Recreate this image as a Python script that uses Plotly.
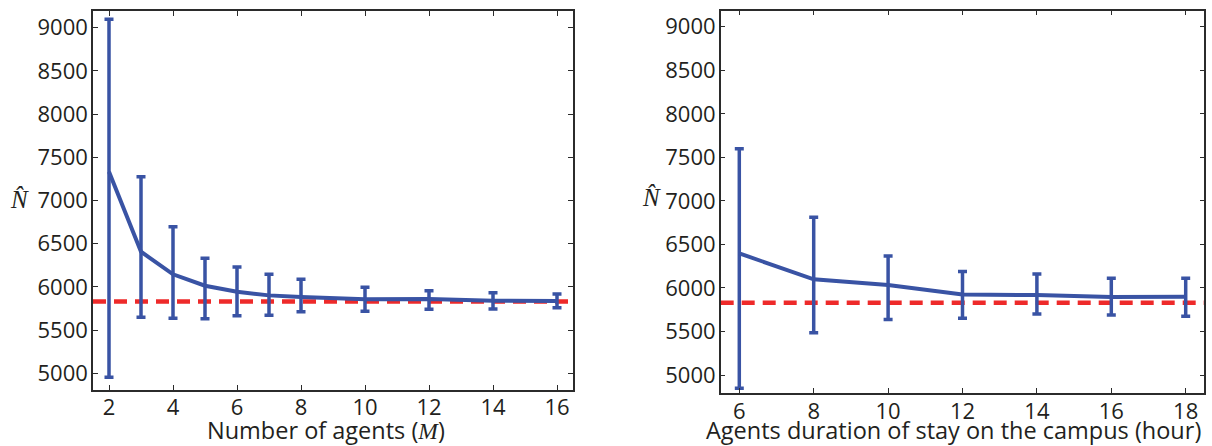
import plotly.graph_objects as go

# Left panel: estimate vs number of agents M
agents = [2, 3, 4, 5, 6, 7, 8, 10, 12, 14, 16]
agents_mean = [7333, 6407, 6146, 6014, 5944, 5902, 5883, 5856, 5860, 5840, 5837]
agents_upper = [9097, 7275, 6697, 6331, 6230, 6146, 6088, 5995, 5956, 5933, 5918]
agents_lower = [4954, 5648, 5636, 5632, 5667, 5671, 5713, 5718, 5741, 5745, 5759]

# Right panel: estimate vs duration of stay (hours)
hours = [6, 8, 10, 12, 14, 16, 18]
hours_mean = [6397, 6099, 6033, 5924, 5918, 5895, 5899]
hours_upper = [7598, 6811, 6366, 6190, 6160, 6110, 6110]
hours_lower = [4847, 5486, 5639, 5651, 5700, 5689, 5674]

true_n = 5830

left_xticks = [2, 4, 6, 8, 10, 12, 14, 16]
right_xticks = [6, 8, 10, 12, 14, 16, 18]
yticks = [5000, 5500, 6000, 6500, 7000, 7500, 8000, 8500, 9000]

BLUE = "#3953A4"
RED = "#EE2A2A"
AXIS = "#2b2b2b"
TEXT = "#231f20"
FONT = "Open Sans"
W, H = 1212, 446

fig = go.Figure()


def add_series(x, mean, upper, lower, xa, ya):
    fig.add_trace(go.Scatter(
        x=x, y=mean, mode="lines",
        line=dict(color=BLUE, width=4),
        error_y=dict(
            type="data", symmetric=False,
            array=[u - m for u, m in zip(upper, mean)],
            arrayminus=[m - l for m, l in zip(mean, lower)],
            color=BLUE, thickness=3.5, width=4.5,
        ),
        xaxis=xa, yaxis=ya, showlegend=False, hoverinfo="skip",
    ))


add_series(agents, agents_mean, agents_upper, agents_lower, "x", "y")
add_series(hours, hours_mean, hours_upper, hours_lower, "x2", "y2")

for xr, yr in (("x domain", "y"), ("x2 domain", "y2")):
    fig.add_shape(type="line", xref=xr, yref=yr, x0=0, x1=1,
                  y0=true_n, y1=true_n, layer="below",
                  line=dict(color=RED, width=4.5, dash="13px,8px"))

axis_common = dict(
    showline=True, linecolor=AXIS, linewidth=1.5, mirror="ticks",
    ticks="inside", ticklen=5, tickwidth=1.2, tickcolor=AXIS,
    showgrid=False, zeroline=False,
    tickfont=dict(family=FONT, size=22, color=TEXT),
)

left_dom = [93 / W, 573 / W]
right_dom = [720.7 / W, 1204.3 / W]

fig.update_layout(
    width=W, height=H,
    margin=dict(l=0, r=0, t=0, b=0),
    paper_bgcolor="white", plot_bgcolor="white",
    xaxis=dict(axis_common, domain=left_dom, range=[1.5, 16.5],
               tickvals=left_xticks, anchor="y", ticklabelstandoff=-3),
    yaxis=dict(axis_common, domain=[(H - 390) / H, (H - 11) / H],
               range=[4807, 9193], tickvals=yticks, anchor="x",
               ticklabelstandoff=-1),
    xaxis2=dict(axis_common, domain=right_dom, range=[5.5, 18.5],
                tickvals=right_xticks, anchor="y2", ticklabelstandoff=-2),
    yaxis2=dict(axis_common, domain=[(H - 392.7) / H, (H - 10.7) / H],
                range=[4797, 9184], tickvals=yticks, anchor="x2",
                ticklabelstandoff=-1),
)

# Axis titles
math = "font-family:'Liberation Serif';font-style:italic"
titles = [
    (326, f"Number of agents (<span style=\"{math}\">M</span>)"),
    (953, "Agents duration of stay on the campus (hour)"),
]
for xc, txt in titles:
    fig.add_annotation(
        x=xc / W, y=1 - 430 / H, xref="paper", yref="paper",
        text=txt, showarrow=False, xanchor="center", yanchor="middle",
        font=dict(family=FONT, size=23.5, color=TEXT),
    )

# Estimator symbol beside each y axis
for xpos, ypos in ((20, 199), (651, 197)):
    fig.add_annotation(
        x=xpos / W, y=1 - ypos / H, xref="paper", yref="paper",
        text="<i>N\u0302</i>", showarrow=False,
        font=dict(family="Liberation Serif", size=25, color=TEXT),
        xanchor="center", yanchor="middle",
    )

fig.write_html("out.html")
